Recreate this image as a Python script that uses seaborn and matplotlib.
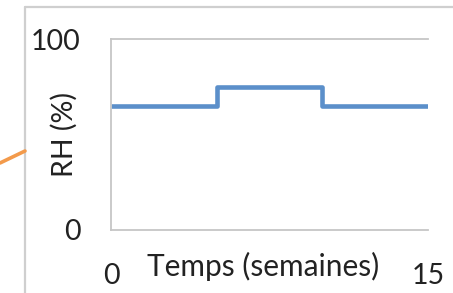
import pandas as pd
import matplotlib.pyplot as plt
import seaborn as sns
from matplotlib.lines import Line2D

# relative humidity steps over the weeks
weeks = [0, 5, 10, 15]
rh = [65, 75, 65, 65]
x_ticks = [0, 15]
y_ticks = [0, 100]

df = pd.DataFrame({"Temps": weeks, "RH": rh})

sns.set_style("white")
plt.rcParams['font.family'] = ['Lato', 'DejaVu Sans']

fig = plt.figure(figsize=(4.53, 2.93), dpi=100)
ax = fig.add_axes([111 / 453, 63 / 293, 317 / 453, 191 / 293])

sns.lineplot(data=df, x="Temps", y="RH", drawstyle="steps-post",
             color="#5b8fca", linewidth=3.3, ax=ax)
for ln in ax.lines:
    ln.set_solid_joinstyle("round")
    ln.set_solid_capstyle("butt")

ax.set_xlim(0, 15)
ax.set_ylim(0, 100)
ax.set_xticks(x_ticks)
ax.set_yticks(y_ticks)
ax.tick_params(axis="both", length=0, labelsize=20.5, colors="#222222")
ax.tick_params(axis="y", pad=22)
ax.tick_params(axis="x", pad=24)

ax.set_xlabel("Temps (semaines)", fontsize=21.5, color="#222222")
ax.set_ylabel("RH (%)", fontsize=20.5, color="#222222")
ax.xaxis.set_label_coords(0.48, -0.115)
ax.yaxis.set_label_coords(-0.104, 0.5)

for side in ["left", "bottom", "top"]:
    ax.spines[side].set_color("#c6c6c6")
    ax.spines[side].set_linewidth(1.3)
ax.spines["right"].set_visible(False)

# outer frame and the orange connector coming in from the left
fig.add_artist(Line2D([25 / 453, 25 / 453], [0, 1 - 7 / 293],
                      transform=fig.transFigure, color="#cfcfcf", linewidth=1.6))
fig.add_artist(Line2D([25 / 453, 1], [1 - 7 / 293, 1 - 7 / 293],
                      transform=fig.transFigure, color="#cfcfcf", linewidth=1.6))
fig.add_artist(Line2D([0, 25 / 453], [1 - 163 / 293, 1 - 151 / 293],
                      transform=fig.transFigure, color="#f39a4b", linewidth=2.6))

fig.savefig("out.png", dpi=100)
